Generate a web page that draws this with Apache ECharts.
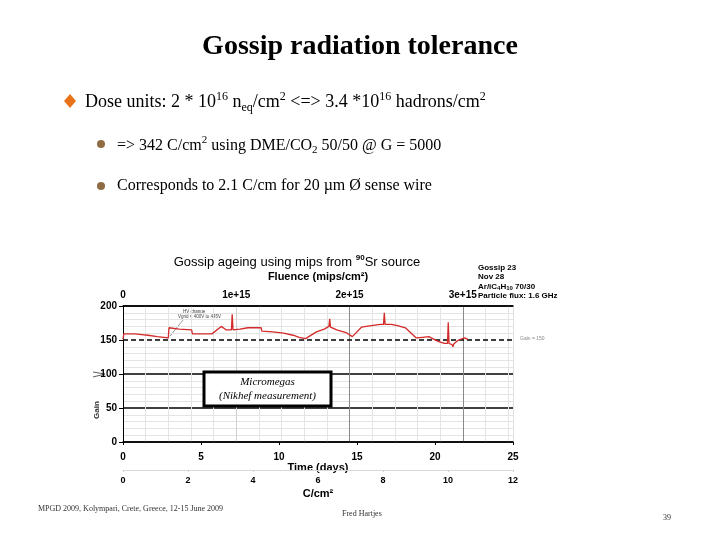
<!DOCTYPE html>
<html>
<head>
<meta charset="utf-8">
<script src="https://cdn.jsdelivr.net/npm/echarts@6/dist/echarts.min.js"></script>
<style>html,body{margin:0;padding:0;background:#fff}#c{width:720px;height:540px}</style>
</head>
<body>
<div id="c"></div>
<script>
// ---- data ----
var days = [0,0.05,0.4,0.77,1.2,1.6,2.2,2.9,2.95,3.6,
            4.4,4.45,5.0,5.7,6.3,6.6,6.95,7.0,7.05,7.5,
            8.0,8.5,8.85,8.9,9.6,10.3,10.9,11.3,11.7,12.4,
            12.9,13.2,13.25,13.3,13.7,14.3,14.7,15.3,15.9,16.5,
            16.7,16.75,16.8,17.2,17.6,18.1,18.8,19.2,19.6,20.2,
            20.6,20.8,20.85,20.9,21.1,21.15,21.2,21.5,21.9,22.1];
var gain = [151,159,159,159,158,157,155,153,168,166,
            165,159,159,159,170,165,165,188,165,166,
            168,168,168,163,162,160,157,154,152,162,
            166,170,181,169,165,161,155,169,171,173,
            173,190,173,173,171,168,153,154,155,148,
            145,145,176,145,143,140,144,150,153,151];
var timeTicks = [0,5,10,15,20,25];
var fluenceTickLabels = ['0','1e+15','2e+15','3e+15'];
var chargeTicks = [0,2,4,6,8,10,12];
var daysPer1e15 = 7.26;        // fluence axis scale (1e15 mips/cm2 per 7.26 days)
var maxDays = 25, maxCharge = 12;
var refGain = 150;
var infoLines = ['Gossip 23','Nov 28','Ar/iC{s|4}H{s|10} 70/30','Particle flux: 1.6 GHz'];

var serif = '"Liberation Serif","Times New Roman",serif';
var sans = '"Liberation Sans",Arial,sans-serif';

var pts = days.map(function(d,i){return [d, gain[i]];});

var chart = echarts.init(document.getElementById('c'));
var option = {
  animation: false,
  backgroundColor: '#fff',
  grid: {left: 123, right: 207, top: 306, bottom: 98},
  xAxis: [
    { // time (days)
      type: 'value', min: 0, max: maxDays, interval: 5, position: 'bottom',
      axisLine: {show: true, lineStyle: {color: '#000', width: 1.5}},
      axisTick: {show: true, length: 3, inside: false, lineStyle: {color: '#000'}},
      axisLabel: {color: '#000', fontFamily: sans, fontWeight: 'bold', fontSize: 10, margin: 10},
      splitLine: {show: false},
      name: 'Time (days)', nameLocation: 'middle', nameGap: 15,
      nameTextStyle: {color: '#000', fontFamily: sans, fontWeight: 'bold', fontSize: 11}
    },
    { // fluence, in units of 1e15
      type: 'value', min: 0, max: maxDays / daysPer1e15, interval: 1, position: 'top',
      axisLine: {show: true, lineStyle: {color: '#000', width: 1.5}},
      axisTick: {show: false},
      axisLabel: {color: '#000', fontFamily: sans, fontWeight: 'bold', fontSize: 10, margin: 6,
        formatter: function(v){ var r = Math.round(v); return Math.abs(v-r) < 1e-6 && r < fluenceTickLabels.length ? fluenceTickLabels[r] : ''; }},
      splitLine: {show: true, lineStyle: {color: ['#000','#d0d0d0','#8a8a8a','#8a8a8a','#e0e0e0'], width: 1}},
      minorTick: {show: false, splitNumber: 5},
      minorSplitLine: {show: true, lineStyle: {color: '#e4e4e4', width: 1}},
      name: 'Fluence (mips/cm²)', nameLocation: 'middle', nameGap: 24,
      nameTextStyle: {color: '#000', fontFamily: sans, fontWeight: 'bold', fontSize: 11}
    },
    { // charge C/cm2
      type: 'value', min: 0, max: maxCharge, interval: 2, position: 'bottom', offset: 28,
      axisLine: {show: true, lineStyle: {color: '#d8d8d8', width: 1}},
      axisTick: {show: true, length: 2, lineStyle: {color: '#cfcfcf'}},
      axisLabel: {color: '#000', fontFamily: sans, fontWeight: 'bold', fontSize: 9, margin: 6},
      splitLine: {show: false},
      name: 'C/cm²', nameLocation: 'middle', nameGap: 18,
      nameTextStyle: {color: '#000', fontFamily: sans, fontWeight: 'bold', fontSize: 11}
    }
  ],
  yAxis: {
    type: 'value', min: 0, max: 200, interval: 50,
    axisLine: {show: true, lineStyle: {color: '#000', width: 1}},
    axisTick: {show: true, length: 4, lineStyle: {color: '#000'}},
    axisLabel: {color: '#000', fontFamily: sans, fontWeight: 'bold', fontSize: 10, margin: 6},
    splitLine: {show: true, lineStyle: {color: ['#000','#000','#000','rgba(0,0,0,0)','#000'], width: 1.5}},
    minorTick: {show: false, splitNumber: 5},
    minorSplitLine: {show: true, lineStyle: {color: '#e4e4e4', width: 1}}
  },
  series: [{
    type: 'line', xAxisIndex: 0, data: pts, showSymbol: false, symbol: 'none',
    lineStyle: {color: '#d42a2a', width: 1.3},
    z: 5,
    markLine: {
      silent: true, symbol: 'none', label: {show: false},
      lineStyle: {color: '#000', type: [5, 3], width: 1.5},
      data: [{yAxis: refGain}]
    }
  }],
  graphic: [
    // slide title
    {type: 'text', left: 'center', top: 33, style: {text: 'Gossip radiation tolerance', font: 'bold 28px ' + serif, fill: '#000'}},
    // main bullet
    {type: 'polygon', shape: {points: [[70,94],[76,101],[70,108],[64,101]]}, style: {fill: '#e8731a'}},
    {type: 'text', x: 85, y: 91, style: {
      text: 'Dose units: 2 * 10{s|16} n{b|eq}/cm{s|2} <=> 3.4 *10{s|16} hadrons/cm{s|2}',
      font: '18px ' + serif, fill: '#000', lineHeight: 23,
      rich: {s: {fontSize: 12, fontFamily: serif, verticalAlign: 'top', lineHeight: 12},
             b: {fontSize: 12, fontFamily: serif, verticalAlign: 'bottom', lineHeight: 10}}
    }},
    // sub bullets
    {type: 'circle', shape: {cx: 101, cy: 144, r: 4}, style: {fill: '#8f6b43'}},
    {type: 'text', x: 117, y: 135, style: {
      text: '=> 342 C/cm{s|2} using DME/CO{b|2} 50/50 @ G = 5000',
      font: '16px ' + serif, fill: '#000', lineHeight: 21,
      rich: {s: {fontSize: 11, fontFamily: serif, verticalAlign: 'top', lineHeight: 11},
             b: {fontSize: 11, fontFamily: serif, verticalAlign: 'bottom', lineHeight: 9}}
    }},
    {type: 'circle', shape: {cx: 101, cy: 186, r: 4}, style: {fill: '#8f6b43'}},
    {type: 'text', x: 117, y: 178, style: {text: 'Corresponds to 2.1 C/cm for 20 µm Ø sense wire', font: '16px ' + serif, fill: '#000'}},
    // chart title
    {type: 'text', x: 297, y: 262, style: {
      text: 'Gossip ageing using mips from {s|90}Sr source', font: '13px ' + sans, fill: '#000',
      align: 'center', verticalAlign: 'middle', lineHeight: 16,
      rich: {s: {fontSize: 8, fontFamily: sans, fontWeight: 'bold', verticalAlign: 'top', lineHeight: 8}}
    }},
    // info block
    {type: 'text', x: 478, y: 263, style: {
      text: infoLines.join('\n'), font: 'bold 8px ' + sans, fill: '#000', lineHeight: 9.5,
      rich: {s: {fontSize: 6, fontWeight: 'bold', fontFamily: sans, verticalAlign: 'bottom', lineHeight: 8}}
    }},
    // reference label
    {type: 'text', x: 520, y: 336, style: {text: 'Gain = 150', font: '5px ' + sans, fill: '#888'}},
    // y axis name
    {type: 'text', x: 97, y: 410, rotation: Math.PI/2, style: {text: 'Gain', font: 'bold 8px ' + sans, fill: '#333', align: 'center', verticalAlign: 'middle'}},
    {type: 'polyline', shape: {points: [[93,372],[105,374],[93,377]]}, style: {stroke: '#333', lineWidth: 0.8, fill: null}},
    // HV change annotation
    {type: 'text', x: 178, y: 309, style: {text: '    HV change\nVgrid = 400V to 445V', font: '4.5px ' + sans, fill: '#444', lineHeight: 5}},
    {type: 'line', shape: {x1: 183, y1: 320, x2: 170, y2: 336}, style: {stroke: '#555', lineWidth: 0.6}},
    // Micromegas box
    {type: 'rect', shape: {x: 204, y: 372, width: 127, height: 34}, style: {fill: '#fff', stroke: '#000', lineWidth: 3}, z: 100},
    {type: 'text', x: 267.5, y: 389, z: 101, style: {text: 'Micromegas\n(Nikhef measurement)', font: 'italic 11px ' + serif, fill: '#000', align: 'center', verticalAlign: 'middle', lineHeight: 14}},
    // footer
    {type: 'text', x: 38, y: 505, style: {text: 'MPGD 2009, Kolympari, Crete, Greece, 12-15 June 2009', font: '8px ' + serif, fill: '#333'}},
    {type: 'text', x: 342, y: 510, style: {text: 'Fred Hartjes', font: '8px ' + serif, fill: '#333'}},
    {type: 'text', x: 663, y: 514, style: {text: '39', font: '8px ' + serif, fill: '#333'}}
  ]
};
chart.setOption(option);
</script>
</body>
</html>
